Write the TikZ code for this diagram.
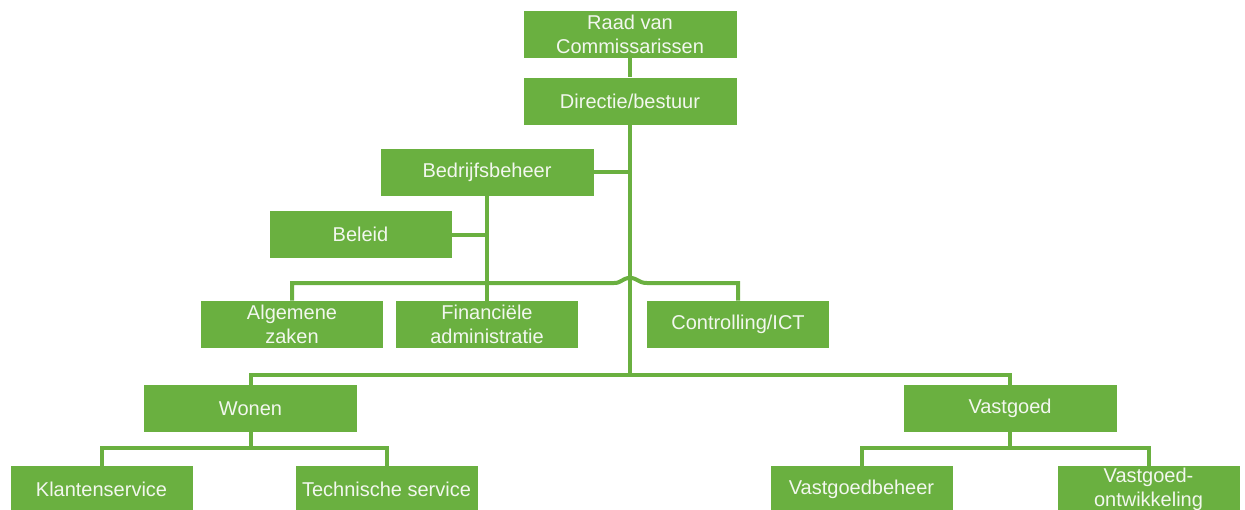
\documentclass[tikz,border=0pt]{standalone}
\usepackage{fontspec}
\setmainfont{Liberation Sans}
\usetikzlibrary{positioning}
\definecolor{leaf}{HTML}{6AB040}
\definecolor{paper}{HTML}{F2F7EE}

\begin{document}
\begin{tikzpicture}[x=0.5pt,y=-0.5pt,
    unit/.style={fill=leaf,text=paper,align=center,inner sep=0pt,minimum height=23.5pt,font=\fontsize{10}{12}\selectfont},
    wideunit/.style={unit,minimum width=106.5pt},
    smallunit/.style={unit,minimum width=91pt},
    link/.style={draw=leaf,line width=2pt}]
    \useasboundingbox (0,0) rectangle (1245,509);
    % top of the organisation
    \node[wideunit] (raad) at (630,34.5) {Raad van\\Commissarissen};
    \node[wideunit] (dir) at (630,101) {Directie/bestuur};
    \node[wideunit] (bedr) at (487,172) {Bedrijfsbeheer};
    \node[smallunit] (beleid) at (360.5,234.5) {Beleid};
    % staff departments
    \node[smallunit] (alg) at (292,324.5) {Algemene\\zaken};
    \node[smallunit] (fin) at (487,324.5) {Financi\"ele\\administratie};
    \node[smallunit] (ctrl) at (738,324.5) {Controlling/ICT};
    % line departments
    \node[wideunit] (wonen) at (250.5,408.5) {Wonen};
    \node[wideunit] (vast) at (1010,408.5) {Vastgoed};
    \node[smallunit] (klant) at (101.5,489.5) {Klantenservice};
    \node[smallunit] (tech) at (386.5,489.5) {Technische service};
    \node[smallunit] (vgb) at (861.5,489.5) {Vastgoedbeheer};
    \node[smallunit] (vgo) at (1148.5,489.5) {Vastgoed-\\ontwikkeling};
    \coordinate (mainend) at (630,375);
    \coordinate (wj) at (250.5,448);
    \coordinate (vj) at (1010,448);
    \draw[link] (raad) -- (dir);
    \draw[link] (dir.south) -- (mainend);
    \draw[link] (bedr.east) -- (dir.south |- bedr.east);
    \draw[link] (bedr.south) -- (fin.north);
    \draw[link] (beleid.east) -- (bedr.south |- beleid.east);
    \draw[link] (alg.north) -- (292,283) -- (614,283)
      .. controls (622,283) and (622,278) .. (630,278)
      .. controls (638,278) and (638,283) .. (647,283) -| (ctrl.north);
    \draw[link] (wonen.north) |- (mainend) -| (vast.north);
    \draw[link] (wonen.south) -- (wj);
    \draw[link] (klant.north) |- (wj) -| (tech.north);
    \draw[link] (vast.south) -- (vj);
    \draw[link] (vgb.north) |- (vj) -| (vgo.north);
\end{tikzpicture}
\end{document}
